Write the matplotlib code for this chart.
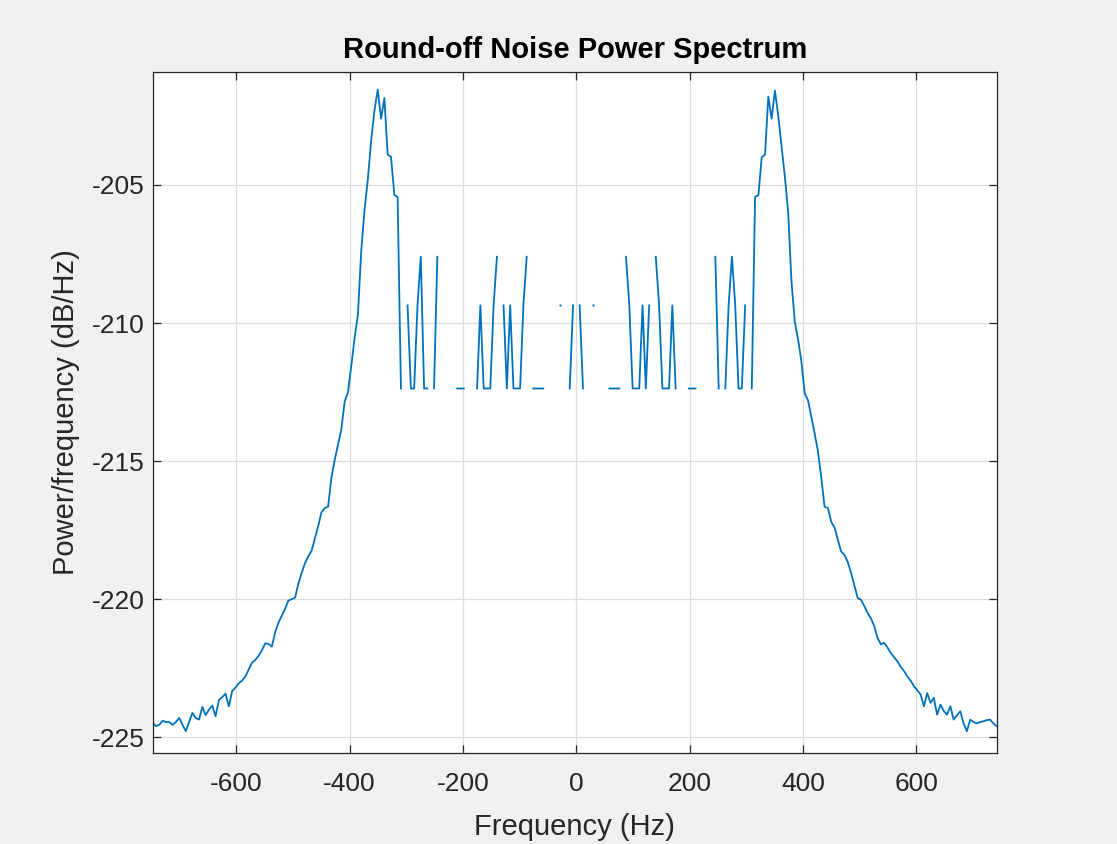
import numpy as np
import matplotlib
matplotlib.use("Agg")
import matplotlib.pyplot as plt

plt.rcParams["font.family"] = ["Liberation Sans", "DejaVu Sans"]
plt.rcParams["axes.unicode_minus"] = False

# two-sided spectrum, 256 bins with DC in the middle
fs = 1495.0
nfft = 256

# PSD in dB/Hz
# negative side: tail up to the left peak (bins -128 .. -53)
psd_left = [
    -224.48, -224.60, -224.55, -224.40, -224.45, -224.45, -224.55, -224.45,
    -224.30, -224.55, -224.78, -224.45, -224.12, -224.30, -224.36, -223.90,
    -224.20, -224.00, -223.85, -224.24, -223.65, -223.55, -223.42, -223.88,
    -223.33, -223.20, -223.05, -222.95, -222.80, -222.55, -222.30, -222.20,
    -222.05, -221.85, -221.60, -221.62, -221.72, -221.20, -220.85, -220.60,
    -220.35, -220.05, -220.00, -219.95, -219.45, -219.05, -218.70, -218.45,
    -218.25, -217.80, -217.35, -216.85, -216.70, -216.65, -215.60, -214.95,
    -214.40, -213.85, -212.85, -212.50, -211.55, -210.55, -209.70, -207.40,
    -205.90, -204.80, -203.40, -202.30, -201.55, -202.60, -201.85, -203.90,
    -203.98, -205.35, -205.45, -212.37,
]

# middle bins (-52 .. 52): quantised round-off noise, None = empty bin (-Inf dB)
psd_center = [
    None, -209.36, -212.37, -212.37, -209.36, -207.60, -212.37, -212.37,
    None, -212.37, -207.60, None, None, None, None, None,
    -212.37, -212.37, -212.37, None, None, None, -212.37, -209.36,
    -212.37, -212.37, -212.37, -209.36, -207.60, None, -209.36, -212.37,
    -209.36, -212.37, -212.37, -212.37, -209.36, -207.60, None, -212.37,
    -212.37, -212.37, -212.37, None, None, None, None, -209.36,
    None, None, -212.37, -209.36, None, -209.36, -212.37, None,
    None, -209.36, None, None, None, None, -212.37, -212.37,
    -212.37, -212.37, None, -207.60, -209.36, -212.37, -212.37, -212.37,
    -209.36, -212.37, -209.36, None, -207.60, -209.36, -212.37, -212.37,
    -212.37, -209.36, -212.37, None, None, None, -212.37, -212.37,
    -212.37, None, None, None, None, None, -207.60, -212.37,
    None, -212.37, -209.36, -207.60, -209.36, -212.37, -212.37, -209.36,
    None,
]

# positive side: right peak down to the tail (bins 53 .. 127)
psd_right = [
    -212.37, -205.43, -205.37, -204.00, -203.90, -201.80, -202.60, -201.58,
    -202.50, -203.60, -204.70, -206.00, -208.50, -209.95, -210.60, -211.40,
    -212.55, -212.80, -213.40, -214.00, -214.65, -215.60, -216.65, -216.70,
    -217.20, -217.40, -217.85, -218.27, -218.40, -218.65, -219.05, -219.50,
    -219.96, -220.02, -220.25, -220.50, -220.70, -220.98, -221.40, -221.64,
    -221.58, -221.75, -221.95, -222.10, -222.25, -222.45, -222.60, -222.80,
    -222.95, -223.15, -223.30, -223.45, -223.88, -223.40, -223.75, -223.57,
    -224.18, -223.82, -224.05, -224.18, -223.88, -224.36, -224.20, -224.06,
    -224.50, -224.78, -224.36, -224.45, -224.50, -224.45, -224.42, -224.38,
    -224.36, -224.50, -224.60,
]

freq = -fs / 2 + np.arange(nfft) * fs / nfft
psd = np.array(psd_left + psd_center + psd_right, dtype=float)

# single bins with empty neighbours show up as dots
finite = np.isfinite(psd)
lonely = finite & ~np.r_[False, finite[:-1]] & ~np.r_[finite[1:], False]

fig = plt.figure(figsize=(11.17, 8.44), dpi=100, facecolor="#F0F0F0")
ax = fig.add_axes([0.1367, 0.1075, 0.7556, 0.8075])

ax.plot(freq, psd, color="#0072BD", lw=1.3)
ax.plot(freq[lonely], psd[lonely], ls="none", marker="s", ms=1.7,
        mec="none", color="#0072BD")

ax.set_xlim(freq[0], freq[-1])
ax.set_ylim(-225.58, -200.9)
ax.set_xticks(range(-600, 601, 200))
ax.set_yticks(range(-225, -204, 5))

ax.grid(True, color="#DCDCDC", lw=0.9)
ax.set_axisbelow(True)
ax.tick_params(direction="in", length=6, width=0.9, color="#262626",
               top=True, right=True, labelsize=19, labelcolor="#262626")
ax.tick_params(axis="x", pad=13.5)
ax.tick_params(axis="y", pad=6)
for s in ax.spines.values():
    s.set_color("#262626")
    s.set_linewidth(0.9)

ax.set_title("Round-off Noise Power Spectrum", fontsize=21, fontweight="bold", pad=10)
ax.set_xlabel("Frequency (Hz)", fontsize=21, color="#262626", labelpad=12)
ax.set_ylabel("Power/frequency (dB/Hz)", fontsize=21, color="#262626", labelpad=8)

fig.savefig("out.png", dpi=100, facecolor=fig.get_facecolor())
